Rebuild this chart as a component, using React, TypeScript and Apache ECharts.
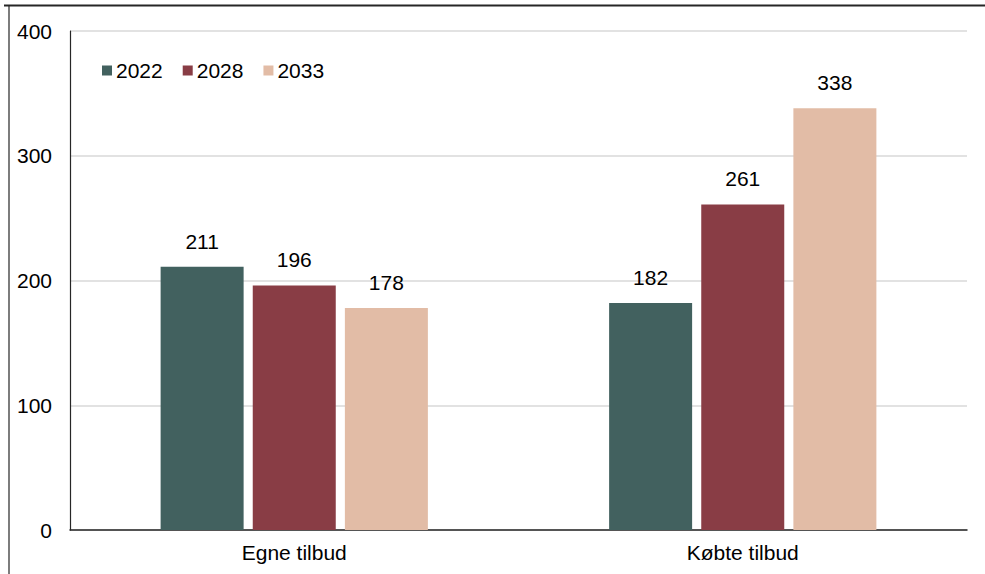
import React, { useEffect, useRef } from "react";
import * as echarts from "echarts";

const categories = ["Egne tilbud", "Købte tilbud"];
const seriesNames = ["2022", "2028", "2033"];
const values2022 = [211, 182];
const values2028 = [196, 261];
const values2033 = [178, 338];
const colors = ["#42615F", "#893D45", "#E2BCA6"];
const yTicks = { min: 0, max: 400, interval: 100 };

export default function App() {
  const ref = useRef<HTMLDivElement>(null);
  useEffect(() => {
    if (!ref.current) return;
    const chart = echarts.init(ref.current, undefined, { renderer: "svg" });
    const font = "Liberation Sans, Arial, sans-serif";
    const data = [values2022, values2028, values2033];
    chart.setOption({
      animation: false,
      backgroundColor: "#ffffff",
      textStyle: { fontFamily: font },
      grid: { left: 70, right: 18, top: 31, bottom: 44, containLabel: false },
      legend: {
        left: 97,
        top: 55,
        itemWidth: 10,
        itemHeight: 10,
        itemGap: 20,
        icon: "rect",
        textStyle: { fontSize: 21, color: "#000", fontFamily: font, padding: [0, 0, 0, -1] },
        data: seriesNames,
      },
      xAxis: {
        type: "category",
        data: categories,
        axisLine: { lineStyle: { color: "#262626", width: 1.5 } },
        axisTick: { show: false },
        axisLabel: { fontSize: 21, color: "#000", margin: 12, fontFamily: font },
      },
      yAxis: {
        type: "value",
        min: yTicks.min,
        max: yTicks.max,
        interval: yTicks.interval,
        axisLine: { show: true, lineStyle: { color: "#262626", width: 1.2 } },
        axisTick: { show: false },
        axisLabel: { fontSize: 21, color: "#000", margin: 18, fontFamily: font },
        splitLine: { lineStyle: { color: "#D9D9D9", width: 1.5 } },
      },
      series: seriesNames.map((name, i) => ({
        name,
        type: "bar",
        data: data[i],
        barWidth: 83,
        barGap: "11%",
        itemStyle: { color: colors[i] },
        label: {
          show: true,
          position: "top",
          distance: 15,
          fontSize: 21,
          color: "#000",
          fontFamily: font,
        },
      })),
      graphic: [
        {
          type: "line",
          shape: { x1: 4, y1: 5.5, x2: 985, y2: 5.5 },
          style: { stroke: "#262626", lineWidth: 2 },
        },
        {
          type: "line",
          shape: { x1: 9, y1: 5, x2: 9, y2: 574 },
          style: { stroke: "#262626", lineWidth: 1.2 },
        },
      ],
    });
    return () => chart.dispose();
  }, []);
  return (
    <div
      ref={ref}
      style={{ position: "fixed", left: 0, top: 0, width: 985, height: 574 }}
    />
  );
}
